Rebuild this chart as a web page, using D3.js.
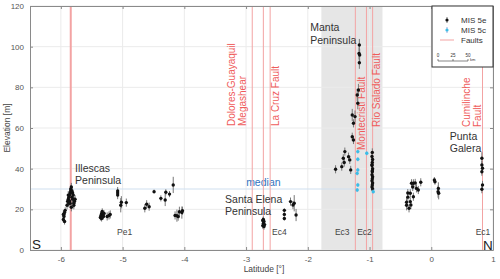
<!DOCTYPE html>
<html>
<head>
<meta charset="utf-8">
<script src="https://cdn.jsdelivr.net/npm/d3@7"></script>
<style>
  body { margin: 0; background: #fff; }
  text { font-family: "Liberation Sans", Arial, sans-serif; }
</style>
</head>
<body>
<div id="chart"></div>
<script>
// MIS 5e terraces: latitude, elevation, error
var e5Lat = [
  -5.96, -5.95, -5.95, -5.94, -5.93, -5.96, -5.94, -5.90, -5.89, -5.88, -5.87, -5.86, -5.85, -5.84, -5.84,
  -5.83, -5.86, -5.85, -5.82, -5.81, -5.80, -5.79, -5.78, -5.77, -5.81, -5.83, -5.88, -5.82, -5.79, -5.87,
  -5.36, -5.35, -5.34, -5.33, -5.32, -5.31, -5.30, -5.34, -5.25, -5.22, -5.20, -5.08, -5.08, -5.08, -5.03,
  -5.02, -4.94, -4.64, -4.61, -4.57, -4.49, -4.38, -4.31, -4.30, -4.24, -4.18, -4.15, -4.12, -4.10, -4.08,
  -4.04, -4.03,
  -2.73, -2.72, -2.71, -2.72, -2.70, -2.71, -2.73, -2.38, -2.38, -2.38, -2.28, -2.24, -2.22, -2.19,
  -1.165, -1.17, -1.16, -1.165, -1.18, -1.20, -1.19, -1.28, -1.235, -1.26, -1.28, -1.26, -1.40, -1.425, -1.34,
  -1.32, -1.41, -1.305, -1.45, -1.55,
  -0.955, -0.96, -0.95, -0.955, -0.96, -0.95, -0.955, -0.96, -0.95, -0.955, -0.96, -0.95, -0.955, -0.96, -0.95,
  -0.955, -0.96,
  -0.40, -0.40, -0.38, -0.38, -0.34, -0.34, -0.33, -0.32, -0.29, -0.29, -0.26, -0.24, -0.21, -0.17, -0.36, -0.30,
  0.05, 0.06, 0.115, 0.11, 0.12,
  0.82, 0.82, 0.83, 0.82, 0.83, 0.82
];
var e5Elev = [
  15, 16.5, 17.5, 18.5, 19.5, 17.5, 14, 22, 24, 25, 26, 27, 28, 29, 30,
  31, 24, 23, 26, 25, 27, 22, 24, 25, 28, 21, 27, 29, 23, 23,
  16, 17, 18, 19, 17, 16.5, 18, 15.5, 16.5, 17, 17.5, 27, 28, 29, 22,
  23.5, 23.3, 20.5, 22.5, 21.3, 28.7, 25.4, 24.6, 28.4, 27.5, 32, 17, 16.9, 16.4, 18.8,
  18.4, 19.3,
  12, 13, 14, 15, 12.5, 11.5, 14.5, 15.5, 17.5, 19.5, 23.8, 22.1, 23, 17.2,
  100.8, 96.7, 95.9, 92.1, 78.7, 76.2, 72.2, 66.4, 65.6, 62.3, 55.7, 54.1, 48.4, 45.1, 45.9,
  44.3, 43, 39.4, 41, 39.7,
  48, 46, 44.5, 43, 41.5, 40, 38.5, 37, 36, 35, 34, 33, 32, 31, 30,
  39, 42,
  22, 23.5, 26, 28, 27.9, 23.8, 22.1, 32.8, 32.8, 26.2, 33, 30.3, 29.5, 33.3, 20.5, 31,
  34.4, 33.6, 30.3, 28.7, 27.9,
  45.1, 41.8, 40.2, 38.5, 32, 29.9
];
var e5Err = [
  1.5, 1.5, 1.5, 1.5, 1.5, 2, 1.5, 2, 2, 2, 2, 2, 2, 2, 2,
  2, 2, 2, 2, 2, 2, 2, 2, 2, 2, 2, 2, 2, 2, 2,
  1.5, 1.5, 1.5, 1.5, 1.5, 1.5, 1.5, 1.5, 2, 2, 2, 2, 2, 2, 3.5,
  3, 2, 2, 2, 2, 1, 1.5, 3, 1.5, 1.5, 4, 2, 3, 2, 2.5,
  3, 2,
  1.5, 1.5, 1.5, 1.5, 1.5, 1.5, 1.5, 1, 1, 1, 2, 2, 4, 3,
  3, 3, 3, 3, 3, 3, 3, 3, 3, 2, 2, 2, 2, 2, 2,
  2, 2, 2, 2, 2,
  2, 2, 2, 2, 2, 2, 2, 2, 2, 2, 2, 2, 2, 2, 2,
  4, 2,
  2.5, 2, 2, 2, 2, 2, 2, 2, 2, 2, 2, 2, 2, 2, 2, 2,
  1.5, 1.5, 3, 3, 3,
  3, 2, 2, 2, 2, 2
];

// MIS 5c terraces
var c5Lat = [-1.19, -1.19, -1.19, -1.20, -1.19, -1.20, -1.045, -0.94];
var c5Elev = [48.4, 44.6, 39.4, 37.7, 32, 29.5, 47.6, 28.7];
var c5Err = [1, 1, 1, 1, 1, 1, 1, 1];

// faults
var faultLat = [-5.84, -2.90, -2.72, -2.61, -1.23, -1.05, -0.95, 0.83];
var faultLabels = [
  { lines: ["Dolores-Guayaquil", "Megashear"], x: -3.174, y: 126 },
  { lines: ["La Cruz Fault"], x: -2.473, y: 126 },
  { lines: ["Montecristi Fault"], x: -1.08, y: 150 },
  { lines: ["Rio Salado Fault"], x: -0.825, y: 127 },
  { lines: ["Cumilinche", "Fault"], x: 0.633, y: 127 }
];

var regionNames = [
  { lines: ["Illescas", "Peninsula"], x: -5.77, y: 172, gap: 12 },
  { lines: ["Santa Elena", "Peninsula"], x: -3.34, y: 203, gap: 11.5 },
  { lines: ["Manta", "Peninsula"], x: -1.96, y: 30.5, gap: 13 },
  { lines: ["Punta", "Galera"], x: 0.30, y: 140, gap: 12 }
];
var segNames = ["Pe1", "Ec4", "Ec3", "Ec2", "Ec1"];
var segLat = [-5.09, -2.58, -1.56, -1.2, 0.72];

var shadeRange = [-1.78, -0.79];
var medianElev = 30;
var xTicks = [-6, -5, -4, -3, -2, -1, 0, 1];
var yTicks = [0, 20, 40, 60, 80, 100, 120];

var W = 500, H = 279;
var svg = d3.select("#chart").append("svg")
    .attr("width", W)
    .attr("height", H);

var x = d3.scaleLinear().domain([-6.5, 1.0]).range([30, 493]);
var y = d3.scaleLinear().domain([0, 120]).range([250, 6]);

// shaded Manta block
svg.append("rect")
    .attr("x", x(shadeRange[0]))
    .attr("y", y(120))
    .attr("width", x(shadeRange[1]) - x(shadeRange[0]))
    .attr("height", y(0) - y(120))
    .attr("fill", "#e6e6e6");

// grid
svg.append("g").selectAll("line")
    .data(xTicks)
    .enter().append("line")
    .attr("x1", d => x(d)).attr("x2", d => x(d))
    .attr("y1", y(0)).attr("y2", y(120))
    .attr("stroke", "#ebebeb").attr("stroke-width", 1);
svg.append("g").selectAll("line")
    .data(yTicks)
    .enter().append("line")
    .attr("x1", x(-6.5)).attr("x2", x(1))
    .attr("y1", d => y(d)).attr("y2", d => y(d))
    .attr("stroke", "#ebebeb").attr("stroke-width", 1);

// median line
svg.append("line")
    .attr("x1", x(-6.5)).attr("x2", x(1))
    .attr("y1", y(medianElev)).attr("y2", y(medianElev))
    .attr("stroke", "#cfe0f0").attr("stroke-width", 1.2);
svg.append("text")
    .attr("x", x(-2.72)).attr("y", y(medianElev) - 3)
    .attr("text-anchor", "middle")
    .attr("font-size", 10.5)
    .attr("fill", "#2f74c0")
    .text("median");

// fault lines
svg.append("g").selectAll("line")
    .data(faultLat)
    .enter().append("line")
    .attr("x1", d => x(d)).attr("x2", d => x(d))
    .attr("y1", y(0)).attr("y2", y(120))
    .attr("stroke", "#f3a3a3")
    .attr("stroke-width", (d, i) => i == 0 ? 2 : 1);

// fault labels (rotated)
faultLabels.forEach(function (f) {
    f.lines.forEach(function (t, k) {
        var px = x(f.x) + k * 11;
        svg.append("text")
            .attr("transform", "translate(" + px + "," + f.y + ") rotate(-90)")
            .attr("font-size", 10)
            .attr("fill", "#ef5b5b")
            .text(t);
    });
});

// region names
regionNames.forEach(function (r) {
    r.lines.forEach(function (t, k) {
        svg.append("text")
            .attr("x", x(r.x)).attr("y", r.y + k * r.gap)
            .attr("font-size", 10.5)
            .attr("fill", "#333")
            .text(t);
    });
});

// segment names
svg.append("g").selectAll("text")
    .data(segNames)
    .enter().append("text")
    .attr("x", (d, i) => x(segLat[i]))
    .attr("y", 235)
    .attr("font-size", 8.5)
    .attr("fill", "#444")
    .text(d => d);

svg.append("text").attr("x", 32).attr("y", 249)
    .attr("font-size", 13.5).attr("fill", "#222").text("S");
svg.append("text").attr("x", 483).attr("y", 249.5)
    .attr("font-size", 13.5).attr("fill", "#222").text("N");

// error bars and points
function drawSeries(lat, elev, err, color, barColor) {
    var pts = lat.map(function (d, i) {
        return { lat: d, elev: elev[i], err: err[i] };
    });
    var g = svg.append("g");
    g.selectAll("line")
        .data(pts)
        .enter().append("line")
        .attr("x1", d => x(d.lat)).attr("x2", d => x(d.lat))
        .attr("y1", d => y(d.elev - d.err)).attr("y2", d => y(d.elev + d.err))
        .attr("stroke", barColor).attr("stroke-width", 1);
    g.selectAll("circle")
        .data(pts)
        .enter().append("circle")
        .attr("cx", d => x(d.lat))
        .attr("cy", d => y(d.elev))
        .attr("r", 1.7)
        .attr("fill", color);
}
drawSeries(e5Lat, e5Elev, e5Err, "#111", "#777");
drawSeries(c5Lat, c5Elev, c5Err, "#3bbde6", "#9ad");

// axes
var axB = svg.append("g").attr("transform", "translate(0," + y(0) + ")")
    .call(d3.axisBottom(x).tickValues(xTicks).tickSizeInner(-3).tickSizeOuter(0).tickPadding(6));
var axT = svg.append("g").attr("transform", "translate(0," + y(120) + ")")
    .call(d3.axisTop(x).tickValues(xTicks).tickSizeInner(-3).tickSizeOuter(0).tickFormat(""));
var axL = svg.append("g").attr("transform", "translate(" + x(-6.5) + ",0)")
    .call(d3.axisLeft(y).tickValues(yTicks).tickSizeInner(-3).tickSizeOuter(0).tickPadding(6));
var axR = svg.append("g").attr("transform", "translate(" + x(1) + ",0)")
    .call(d3.axisRight(y).tickValues(yTicks).tickSizeInner(-3).tickSizeOuter(0).tickFormat(""));

[axB, axT, axL, axR].forEach(function (a) {
    a.select(".domain").attr("stroke", "#8a8a8a");
    a.selectAll(".tick line").attr("stroke", "#8a8a8a");
    a.selectAll(".tick text")
        .attr("font-size", 8)
        .attr("fill", "#555")
        .attr("font-family", "Liberation Sans, Arial, sans-serif");
});
axB.selectAll(".tick text").text(d => d < 0 ? "-" + Math.abs(d) : d);

svg.append("text")
    .attr("transform", "translate(10," + y(60) + ") rotate(-90)")
    .attr("text-anchor", "middle")
    .attr("font-size", 8.5).attr("fill", "#444")
    .text("Elevation [m]");
svg.append("text")
    .attr("x", 264).attr("y", 271.5)
    .attr("text-anchor", "middle")
    .attr("font-size", 8.5).attr("fill", "#444")
    .text("Latitude [°]");

// legend
var lg = svg.append("g").attr("transform", "translate(432,6)");
lg.append("rect")
    .attr("width", 61).attr("height", 61)
    .attr("fill", "#fff").attr("stroke", "#333").attr("stroke-width", 1);
var legItems = ["MIS 5e", "MIS 5c", "Faults"];
var legColors = ["#111", "#3bbde6", "#f3a3a3"];
legItems.forEach(function (t, i) {
    var yy = 14 + i * 10;
    if (i < 2) {
        lg.append("line").attr("x1", 15).attr("x2", 15)
            .attr("y1", yy - 3).attr("y2", yy + 3)
            .attr("stroke", i == 0 ? "#777" : "#9ad");
        lg.append("circle").attr("cx", 15).attr("cy", yy).attr("r", 1.6)
            .attr("fill", legColors[i]);
    } else {
        lg.append("line").attr("x1", 8).attr("x2", 22)
            .attr("y1", yy).attr("y2", yy)
            .attr("stroke", legColors[i]);
    }
    lg.append("text").attr("x", 29).attr("y", yy + 3)
        .attr("font-size", 8).attr("fill", "#333").text(t);
});
// scale bar
var sb = d3.scaleLinear().domain([0, 50]).range([6, 36]);
lg.append("line").attr("x1", sb(0)).attr("x2", sb(50))
    .attr("y1", 55).attr("y2", 55).attr("stroke", "#333").attr("stroke-width", 0.6);
[0, 25, 50].forEach(function (v) {
    lg.append("line").attr("x1", sb(v)).attr("x2", sb(v))
        .attr("y1", 53).attr("y2", 55).attr("stroke", "#333").attr("stroke-width", 0.6);
    lg.append("text").attr("x", sb(v)).attr("y", 51)
        .attr("text-anchor", "middle").attr("font-size", 4.5).attr("fill", "#333").text(v);
});
lg.append("text").attr("x", sb(50) + 2).attr("y", 55)
    .attr("font-size", 4).attr("fill", "#333").text("km");
</script>
</body>
</html>
